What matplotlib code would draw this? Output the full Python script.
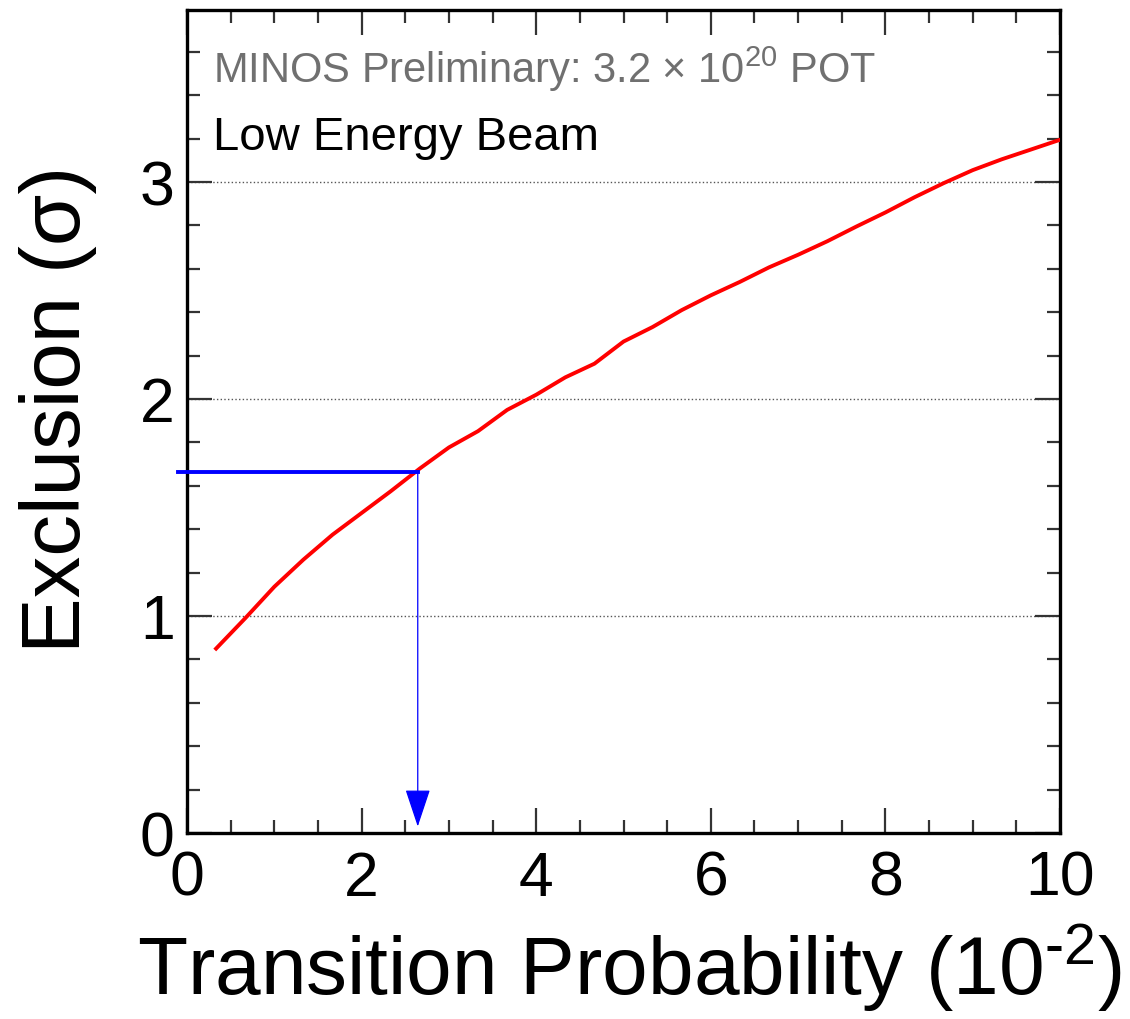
import matplotlib
matplotlib.use('Agg')
import matplotlib.pyplot as plt
from matplotlib.ticker import MultipleLocator

plt.rcParams['font.family'] = ['Liberation Sans', 'DejaVu Sans']
plt.rcParams['mathtext.fontset'] = 'custom'
plt.rcParams['mathtext.rm'] = 'Liberation Sans'
plt.rcParams['mathtext.it'] = 'Liberation Sans:italic'

# exclusion curve
prob = [0.333, 0.667, 1.0, 1.333, 1.667, 2.0, 2.333, 2.667, 3.0, 3.333,
        3.667, 4.0, 4.333, 4.667, 5.0, 5.333, 5.667, 6.0, 6.333, 6.667,
        7.0, 7.333, 7.667, 8.0, 8.333, 8.667, 9.0, 9.333, 9.667, 10.0]
excl = [0.85, 0.99, 1.135, 1.26, 1.375, 1.475, 1.575, 1.68, 1.777, 1.852,
        1.95, 2.02, 2.10, 2.163, 2.265, 2.332, 2.41, 2.478, 2.54, 2.607,
        2.665, 2.727, 2.795, 2.86, 2.93, 2.995, 3.055, 3.105, 3.15, 3.195]

# blue marker: 1.665 sigma reached at P = 2.64e-2
marker_x = 2.643
marker_y = 1.665
line_start = -0.1
arrow_end = 0.03

label_top = 'MINOS Preliminary: 3.2 $\\times$ 10$^{20}$ POT'
label_beam = 'Low Energy Beam'

fig = plt.figure(figsize=(11.3, 10.19), dpi=100)
ax = fig.add_axes([0.1655, 0.1825, 0.7726, 0.8077])

ax.plot(prob, excl, color='red', lw=2.8, zorder=3)
ax.plot([line_start, marker_x], [marker_y, marker_y], color='blue', lw=2.8,
        clip_on=False, zorder=4)
ax.annotate('', xy=(marker_x, arrow_end), xytext=(marker_x, marker_y),
            arrowprops=dict(arrowstyle='-|>,head_length=2.4,head_width=0.8',
                            color='blue', lw=0.9, shrinkA=0, shrinkB=0))

ax.set_xlim(0, 10)
ax.set_ylim(0, 3.793)
ax.xaxis.set_major_locator(MultipleLocator(2))
ax.xaxis.set_minor_locator(MultipleLocator(0.5))
ax.yaxis.set_major_locator(MultipleLocator(1))
ax.yaxis.set_minor_locator(MultipleLocator(0.2))
ax.yaxis.grid(True, which='major', linestyle=':', color='#555555', lw=1.0)

ax.tick_params(which='both', direction='in', top=True, right=True,
               color='#333333', width=1.6, labelsize=45)
ax.tick_params(which='major', length=18)
ax.tick_params(which='minor', length=9.5)
ax.tick_params(axis='x', pad=12)
ax.tick_params(axis='y', pad=9)
for s in ax.spines.values():
    s.set_linewidth(2.4)

ax.set_xlabel('Transition Probability (10$^{\\text{-2}}$)', fontsize=59,
              va='baseline')
ax.xaxis.set_label_coords(0.507, -0.197)
ax.set_ylabel('Exclusion (σ)', fontsize=60, va='center')
ax.yaxis.set_label_coords(-0.148, 0.515)

ax.text(0.030, 0.911, label_top, transform=ax.transAxes, fontsize=30,
        color='#707070', va='baseline')
ax.text(0.030, 0.830, label_beam, transform=ax.transAxes, fontsize=34,
        color='black', va='baseline')

fig.savefig('out.png', dpi=100)
